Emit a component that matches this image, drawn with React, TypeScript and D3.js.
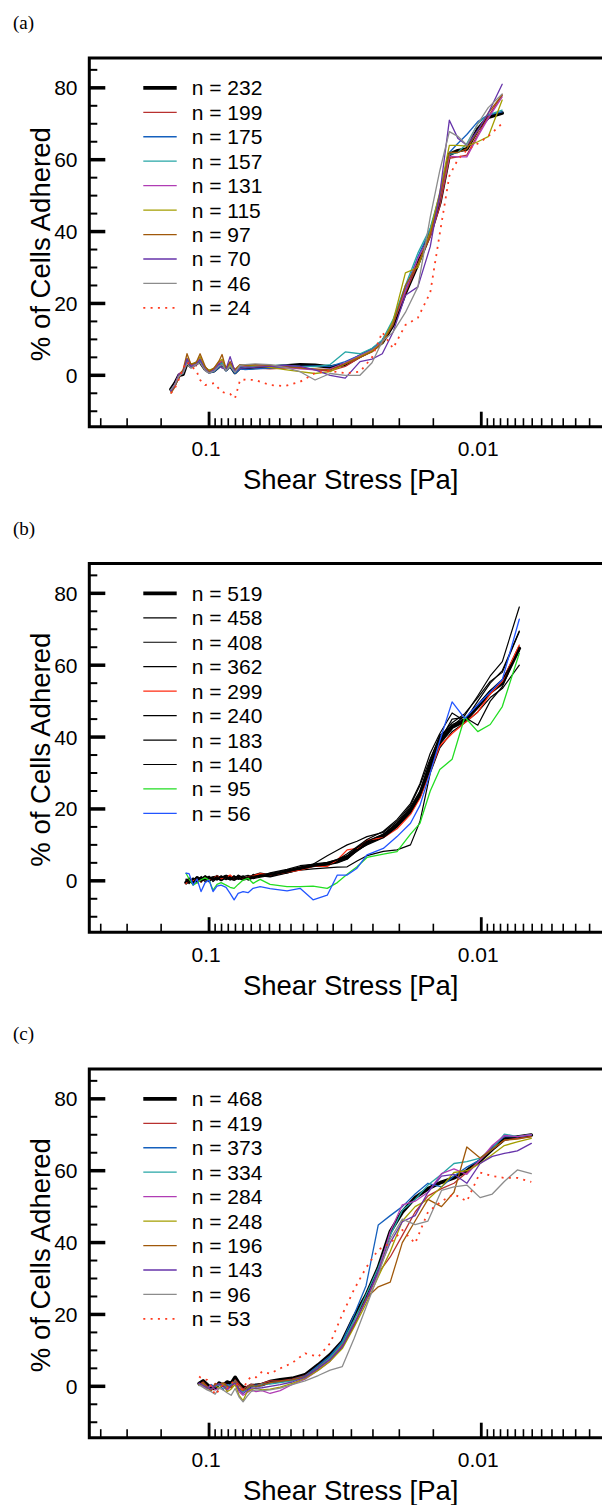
import React from "react";
import * as d3 from "d3";

// ---------- Panel (a) data : shear stress [Pa] and % of cells adhered ----------
const tauA = [0.138, 0.1334, 0.1289, 0.1246, 0.1205, 0.1165, 0.1116, 0.1079, 0.1034, 0.1, 0.0959, 0.0919, 0.0896, 0.0866, 0.0837, 0.0803, 0.0769, 0.0737, 0.0677, 0.0597, 0.0526, 0.0463, 0.0408, 0.0359, 0.0316, 0.0279, 0.0252, 0.0231, 0.0211, 0.019, 0.0171, 0.0154, 0.0142, 0.0131, 0.0122, 0.0113, 0.0103, 0.00943, 0.00838];
const labelsA = ["n = 232", "n = 199", "n = 175", "n = 157", "n = 131", "n = 115", "n = 97", "n = 70", "n = 46", "n = 24"];
const a232 = [-3.9, -2.2, 0.0, 0.3, 3.5, 2.5, 3.3, 3.8, 1.8, 1.0, 1.3, 2.5, 3.2, 1.6, 2.8, 0.8, 2.2, 2.0, 2.2, 2.3, 2.6, 2.9, 2.8, 2.3, 3.0, 5.3, 7.0, 9.2, 14.0, 23.0, 31.0, 39.5, 48.0, 61.5, 62.5, 63.0, 68.5, 71.8, 73.0];
const a199 = [-4.5, -2.8, -0.5, 1.0, 4.2, 3.0, 2.6, 4.5, 2.0, 0.8, 1.8, 3.0, 4.0, 1.5, 3.2, 1.2, 2.5, 2.4, 2.0, 1.8, 2.0, 2.2, 1.5, 1.2, 2.5, 5.0, 6.8, 9.0, 14.5, 23.0, 31.0, 38.5, 47.0, 60.4, 60.8, 61.3, 67.0, 72.0, 78.0];
const a175 = [-4.0, -2.5, 0.2, 0.5, 3.8, 2.8, 3.0, 4.2, 1.4, 0.6, 1.0, 2.2, 3.0, 1.2, 2.5, 0.5, 1.8, 1.6, 1.8, 2.0, 2.2, 2.5, 2.6, 2.5, 3.8, 5.6, 7.2, 9.5, 15.0, 24.0, 33.0, 40.5, 50.0, 62.0, 64.5, 67.0, 70.6, 72.5, 73.3];
const a157 = [-4.2, -2.6, 0.0, 0.8, 4.0, 2.6, 3.2, 4.0, 1.6, 0.9, 1.5, 2.8, 3.5, 1.8, 3.0, 1.0, 2.4, 2.2, 2.5, 2.7, 2.8, 2.5, 2.4, 3.0, 6.5, 6.0, 7.5, 9.8, 15.5, 25.0, 34.0, 41.0, 50.5, 61.5, 62.0, 64.5, 70.0, 72.5, 73.8];
const a131 = [-4.3, -2.4, 0.5, 1.0, 4.5, 2.8, 3.0, 4.8, 2.0, 1.2, 1.6, 3.5, 4.2, 2.0, 3.5, 1.3, 2.7, 2.6, 2.8, 2.5, 2.2, 1.8, 1.5, 1.8, 3.5, 5.5, 7.0, 9.3, 14.5, 23.5, 32.5, 39.0, 49.0, 61.0, 60.8, 60.8, 66.5, 71.5, 77.5];
const a115 = [-4.6, -3.0, -0.2, 1.2, 4.8, 3.2, 3.5, 5.2, 2.2, 1.4, 2.0, 3.8, 4.5, 1.9, 3.0, 1.5, 2.9, 2.8, 2.6, 2.2, 1.6, 1.0, 0.5, 1.0, 3.2, 5.2, 6.8, 9.0, 15.0, 28.5, 30.0, 40.0, 51.0, 64.0, 64.0, 63.8, 65.0, 66.4, 76.6];
const a97 = [-5.0, -3.2, 0.2, 1.5, 6.0, 3.0, 3.5, 6.0, 2.5, 1.0, 2.0, 4.0, 5.8, 1.8, 3.8, 1.6, 3.0, 2.8, 3.0, 2.8, 2.5, 2.0, 1.8, 1.5, 3.2, 5.0, 6.5, 9.0, 14.0, 25.0, 31.0, 39.0, 49.5, 62.0, 62.0, 63.0, 68.0, 73.0, 78.0];
const a70 = [-4.4, -2.7, 0.3, 0.8, 4.6, 2.4, 3.0, 4.4, 1.5, 0.7, 1.4, 3.2, 2.0, 1.8, 5.2, 1.0, 2.0, 2.0, 2.3, 2.5, 2.8, 2.5, 1.5, 0.0, -0.8, 3.8, 4.5, 6.0, 12.0, 22.3, 24.6, 35.8, 50.6, 71.0, 66.0, 64.0, 68.2, 72.9, 81.0];
const a46 = [-4.0, -2.5, -0.2, 0.6, 3.2, 2.0, 3.0, 3.5, 1.3, 0.6, 1.2, 2.6, 3.0, 1.3, 2.6, 0.8, 2.8, 3.0, 3.2, 3.0, 2.2, 1.0, -1.3, 0.5, 0.0, 0.0, 3.5, 9.5, 12.0, 17.5, 24.6, 44.0, 57.0, 67.8, 66.5, 64.1, 70.0, 74.5, 78.3];
const a24 = [-5.0, -3.5, -1.0, 1.9, 3.8, 2.5, 1.5, -1.3, -2.7, -2.5, -2.2, -3.8, -4.6, -5.0, -5.2, -6.4, -1.3, -1.2, -1.3, -2.7, -3.0, -1.8, 0.6, 1.2, 0.6, 1.0, 5.0, 12.0, 7.5, 14.0, 16.0, 23.0, 39.5, 55.5, 60.0, 62.7, 64.5, 66.5, 70.1];

// ---------- Panel (b) data ----------
const tauB = [0.1215, 0.1184, 0.1145, 0.1107, 0.107, 0.1034, 0.1, 0.0967, 0.0935, 0.0903, 0.0866, 0.0837, 0.0809, 0.0782, 0.075, 0.0719, 0.0689, 0.0649, 0.0597, 0.0517, 0.0463, 0.0415, 0.0368, 0.0338, 0.0311, 0.0286, 0.0263, 0.0229, 0.0204, 0.0182, 0.0168, 0.0154, 0.0142, 0.0128, 0.0115, 0.0103, 0.00927, 0.00837, 0.00725];
const labelsB = ["n = 519", "n = 458", "n = 408", "n = 362", "n = 299", "n = 240", "n = 183", "n = 140", "n = 95", "n = 56"];
const b519 = [-0.5, 0.3, -0.5, 0.8, 0.2, 1.0, 0.5, 0.8, 1.0, 0.4, 1.2, 0.8, 0.5, 1.0, 0.6, 0.8, 1.2, 1.8, 1.4, 2.5, 3.5, 4.3, 4.8, 5.5, 6.5, 8.8, 10.6, 12.5, 15.5, 19.5, 24.0, 32.0, 38.5, 42.8, 44.5, 48.5, 52.5, 55.0, 64.7];
const b458 = [0.2, -0.8, 0.5, -0.3, 1.2, 0.3, 1.3, 0.2, 1.5, 0.8, 0.5, 1.5, 0.2, 1.6, 0.9, 0.5, 1.8, 1.2, 2.2, 3.2, 4.2, 4.6, 7.0, 8.5, 10.0, 11.0, 12.3, 13.5, 16.5, 21.0, 26.5, 34.0, 40.0, 44.0, 46.5, 51.0, 55.5, 58.0, 69.3];
const b408 = [-0.8, 0.5, -0.2, 1.0, -0.4, 1.4, 0.1, 1.1, 0.6, 1.3, 0.3, 1.0, 1.3, 0.4, 1.2, 1.5, 0.9, 1.5, 2.0, 3.0, 3.8, 4.0, 4.5, 5.2, 6.3, 8.2, 10.2, 12.8, 16.0, 20.5, 25.0, 33.5, 40.5, 43.0, 46.0, 51.5, 57.0, 61.0, 76.2];
const b362 = [0.3, -0.2, 0.8, -0.6, 0.9, 0.6, 1.2, -0.2, 0.8, 1.1, 0.8, 0.2, 0.9, 1.2, 0.3, 1.1, 0.6, 1.0, 1.5, 2.2, 3.0, 3.3, 3.6, 3.8, 3.9, 5.5, 7.0, 8.2, 8.6, 10.0, 16.5, 30.0, 37.0, 41.5, 44.0, 47.0, 51.0, 53.5, 60.0];
const b299 = [-0.8, 0.4, 0.0, 0.6, -0.3, 1.1, 0.3, 0.7, 1.3, 0.5, 0.9, 1.6, 0.6, 1.2, 0.7, 1.0, 1.4, 2.0, 1.5, 2.4, 3.0, 4.0, 4.0, 5.8, 8.6, 9.0, 11.3, 12.0, 14.5, 18.5, 23.0, 30.5, 37.5, 41.0, 44.0, 47.0, 52.0, 55.5, 65.6];
const b240 = [-0.3, 0.8, -0.7, 0.5, 0.4, 1.3, -0.3, 0.9, 0.2, 1.4, 0.7, 0.3, 1.4, 0.6, 0.5, 1.0, 1.3, 1.4, 1.2, 2.8, 3.2, 4.0, 4.4, 5.0, 6.0, 8.5, 10.0, 12.0, 15.0, 19.0, 23.5, 31.0, 39.0, 45.0, 45.5, 43.3, 50.0, 54.0, 65.0];
const b183 = [0.0, -0.5, 0.4, 0.9, -0.2, 0.8, 0.7, 0.5, 1.2, 0.1, 1.0, 0.6, 0.8, 1.3, 0.8, 0.6, 1.0, 1.6, 1.8, 2.6, 3.6, 4.4, 5.0, 6.0, 7.0, 9.2, 11.0, 13.0, 16.0, 20.0, 24.5, 32.5, 39.5, 43.5, 45.0, 49.0, 53.0, 56.0, 64.0];
const b140 = [0.5, 0.0, -0.4, 0.6, 0.8, -0.2, 1.0, 0.4, 0.3, 1.0, 1.5, 0.4, 0.6, 0.9, 1.4, 0.2, 0.8, 1.2, 1.6, 2.4, 3.4, 4.2, 4.8, 5.8, 7.5, 9.5, 11.5, 13.8, 17.0, 21.5, 27.0, 35.5, 41.0, 46.7, 44.5, 50.0, 55.0, 58.5, 69.5];
const b95 = [2.1, 0.5, -1.2, -0.5, 0.3, 0.8, 0.2, -2.6, -1.0, -0.5, -1.2, -1.8, -2.1, -1.0, 0.2, 0.7, -0.7, 0.4, -1.0, -1.6, -1.6, -1.5, -2.1, -0.5, 1.8, 3.9, 6.5, 7.4, 8.1, 13.0, 16.0, 25.0, 31.0, 33.8, 45.6, 41.5, 43.5, 48.5, 63.3];
const b56 = [2.1, 2.0, -1.2, 0.5, -3.0, -0.5, 0.2, -3.0, -1.5, -1.2, -1.8, -3.5, -5.3, -3.5, -3.0, -3.3, -2.1, -1.6, -2.2, -2.8, -2.1, -5.3, -4.0, 1.6, 1.6, 3.5, 7.2, 9.0, 12.3, 16.0, 21.0, 30.0, 39.0, 49.8, 45.2, 49.0, 52.5, 56.0, 72.8];

// ---------- Panel (c) data ----------
const tauC = [0.1088, 0.1052, 0.1017, 0.0983, 0.095, 0.0919, 0.0888, 0.0859, 0.083, 0.0802, 0.0776, 0.075, 0.0725, 0.0701, 0.0672, 0.0639, 0.0597, 0.0548, 0.0495, 0.0444, 0.0397, 0.0359, 0.0324, 0.0293, 0.0265, 0.0239, 0.0216, 0.0195, 0.0175, 0.0157, 0.014, 0.0126, 0.0113, 0.0101, 0.00911, 0.00823, 0.00737, 0.00655];
const labelsC = ["n = 468", "n = 419", "n = 373", "n = 334", "n = 284", "n = 248", "n = 196", "n = 143", "n = 96", "n = 53"];
const c468 = [0.8, 1.5, 0.5, -0.5, -0.6, 0.9, 0.2, 1.2, 0.8, 2.5, 0.8, -0.3, -0.5, 0.2, 0.3, 0.5, 1.3, 1.8, 2.2, 3.2, 6.0, 8.8, 12.5, 19.4, 25.3, 33.0, 43.0, 48.5, 52.5, 55.0, 56.8, 58.0, 60.0, 62.8, 66.0, 68.8, 69.4, 69.9];
const c419 = [0.5, 1.2, 0.0, -1.2, 0.8, 0.3, 1.0, 0.4, -0.5, 1.8, 0.5, -0.8, 0.0, 0.6, 0.2, 0.8, 1.5, 1.5, 2.0, 3.0, 5.5, 8.0, 11.5, 17.5, 24.0, 31.5, 36.0, 42.0, 48.5, 53.0, 55.0, 56.5, 59.5, 63.0, 66.0, 68.5, 69.0, 69.5];
const c373 = [0.2, 0.6, -0.8, 0.5, -0.2, 0.8, -1.0, 0.5, 0.2, 1.2, -0.6, -1.5, -0.8, 0.0, 0.3, 0.2, 1.0, 1.2, 1.8, 2.8, 5.8, 8.5, 12.5, 20.0, 28.0, 44.9, 47.5, 50.0, 53.5, 56.5, 55.5, 58.5, 61.0, 63.0, 66.5, 69.5, 69.5, 70.0];
const c334 = [0.6, 0.2, -0.3, -1.0, 0.4, 0.2, 0.9, -0.4, 0.6, 1.5, -0.8, -1.5, -0.5, 0.3, -0.2, 0.6, 0.6, 1.0, 1.5, 2.5, 5.2, 8.0, 12.0, 18.5, 25.5, 33.0, 42.0, 49.0, 52.0, 56.0, 59.0, 62.0, 62.5, 63.5, 66.0, 70.2, 69.5, 70.0];
const c284 = [0.8, 0.0, -0.6, 0.2, -1.0, -0.5, 0.5, -1.2, 0.0, 1.0, -1.5, -2.5, -1.8, -1.0, -1.5, -1.2, -2.0, -1.2, 0.5, 2.0, 4.5, 7.0, 11.0, 17.0, 24.0, 32.0, 43.0, 50.5, 51.5, 54.0, 59.2, 60.5, 59.0, 63.0, 67.0, 69.8, 69.5, 70.0];
const c248 = [0.3, 0.5, -0.5, -1.0, 0.2, -0.6, 0.8, -1.5, -0.8, 0.5, -2.5, -4.0, -1.5, -1.0, -0.5, -1.0, -0.8, -0.2, 0.8, 2.2, 4.5, 7.0, 10.5, 16.5, 23.0, 30.5, 37.5, 46.0, 50.0, 52.0, 55.5, 59.5, 60.0, 62.0, 64.5, 67.0, 68.0, 69.0];
const c196 = [0.4, 1.0, -0.2, -1.3, 0.6, 0.5, 0.9, 0.0, -0.3, 1.3, -0.5, -1.2, -0.6, 0.2, 0.0, 0.3, 1.0, 1.4, 1.8, 2.6, 5.0, 7.5, 11.0, 17.0, 24.5, 27.7, 29.0, 40.0, 46.0, 52.0, 50.0, 54.0, 66.6, 63.5, 66.0, 68.5, 68.8, 69.5];
const c143 = [0.9, 0.3, -0.4, -0.8, 0.1, 0.7, 0.2, -0.8, 0.3, 0.9, -1.0, -2.0, -1.2, -0.5, -0.5, -0.4, 0.0, 0.5, 1.2, 2.5, 5.0, 7.5, 11.0, 17.5, 24.0, 32.0, 40.0, 45.8, 47.5, 54.0, 58.5, 59.0, 56.5, 62.0, 64.0, 64.8, 65.5, 67.6];
const c96 = [0.4, -0.3, -1.0, -1.5, -2.2, -0.5, -1.0, -1.8, -2.5, -0.6, -3.0, -4.3, -2.8, -1.5, -1.0, -1.2, -1.0, -0.5, 0.5, 1.5, 3.0, 4.5, 5.5, 13.4, 22.0, 31.0, 41.0, 46.5, 45.0, 46.0, 54.5, 55.5, 56.0, 52.5, 53.5, 57.0, 60.2, 59.2];
const c53 = [2.7, 2.0, 1.8, 0.0, -2.4, -1.0, 0.5, -0.5, 0.8, 1.5, -0.5, -1.0, 1.5, 2.7, 2.5, 4.1, 3.5, 5.0, 6.5, 9.2, 8.2, 12.0, 20.0, 27.0, 33.0, 38.0, 39.8, 43.5, 39.8, 48.5, 51.5, 53.5, 51.5, 59.5, 58.5, 58.0, 58.0, 56.9];

// ---------- axis ticks ----------
const yMajorTicks = [0, 20, 40, 60, 80];
const xMajorTicks = [0.1, 0.01];
const xMajorLabels = ["0.1", "0.01"];
const xTickDecades = [0.001, 0.01, 0.1];
const xTickMultiples = [1.5, 2, 2.5, 3, 3.5, 4, 4.5, 5, 5.5, 6, 6.5, 7, 7.5, 8, 8.5, 9, 9.5];

// ---------- styles ----------
type Style = { color: string; width: number; dash?: string };
const paletteAC: Style[] = [
  { color: "#000000", width: 3.6 },
  { color: "#B8312F", width: 1.3 },
  { color: "#1560BD", width: 1.3 },
  { color: "#26A6A6", width: 1.3 },
  { color: "#B03CB4", width: 1.3 },
  { color: "#A39E00", width: 1.3 },
  { color: "#A0580A", width: 1.3 },
  { color: "#6633AA", width: 1.3 },
  { color: "#8C8C8C", width: 1.3 },
  { color: "#FF3B1F", width: 1.8, dash: "2,5.3" },
];
const paletteB: Style[] = [
  { color: "#000000", width: 3.6 },
  { color: "#000000", width: 1.2 },
  { color: "#000000", width: 1.2 },
  { color: "#000000", width: 1.2 },
  { color: "#FF2A10", width: 1.3 },
  { color: "#000000", width: 1.2 },
  { color: "#000000", width: 1.2 },
  { color: "#000000", width: 1.2 },
  { color: "#22DD22", width: 1.3 },
  { color: "#2255FF", width: 1.3 },
];

const FONT = "'Liberation Sans', Arial, Helvetica, sans-serif";
const W = 602;
const H = 1505;
const LEFT = 89.3;
const RIGHT = 650;
const TOP = 58;
const BOTTOM = 426.7;
const X_DOMAIN = [0.2754, 0.0024];
const Y_DOMAIN = [-14.3, 88.3];

type PanelProps = {
  offset: number;
  tag: string;
  tau: number[];
  series: number[][];
  labels: string[];
  styles: Style[];
};

function Panel({ offset, tag, tau, series, labels, styles }: PanelProps) {
  const xs = d3.scaleLog().domain(X_DOMAIN).range([LEFT, RIGHT]);
  const ys = d3.scaleLinear().domain(Y_DOMAIN).range([BOTTOM, TOP]);
  const line = d3
    .line<[number, number]>()
    .x((d) => xs(d[0]))
    .y((d) => ys(d[1]));

  const xMinor: number[] = [];
  xTickDecades.forEach((dec) =>
    xTickMultiples.forEach((m) => {
      const v = m * dec;
      if (v < X_DOMAIN[0] && v > X_DOMAIN[1]) xMinor.push(v);
    })
  );
  const yMinor = d3.range(-10, 90, 5).filter((v) => v % 20 !== 0 && v > Y_DOMAIN[0] && v < Y_DOMAIN[1]);

  const legendTop = ys(80);
  const rowH = 24.45;

  return (
    <g transform={`translate(0,${offset})`}>
      <text x={13} y={29} fontFamily="'Liberation Serif', 'Times New Roman', serif" fontSize={19} fill="#000">
        {tag}
      </text>

      {/* data */}
      {series.map((vals, i) => {
        const pts = tau.map((t, k) => [t, vals[k]] as [number, number]);
        const st = styles[i];
        return (
          <path
            key={i}
            d={line(pts) || ""}
            fill="none"
            stroke={st.color}
            strokeWidth={st.width}
            strokeDasharray={st.dash}
            strokeLinejoin="round"
            strokeLinecap={st.dash ? "butt" : "round"}
          />
        );
      })}

      {/* frame */}
      <path
        d={`M${RIGHT},${TOP}H${LEFT}V${BOTTOM}H${RIGHT}`}
        fill="none"
        stroke="#000"
        strokeWidth={3}
      />

      {/* x ticks */}
      {xMinor.map((v, i) => (
        <line key={"xm" + i} x1={xs(v)} x2={xs(v)} y1={BOTTOM} y2={BOTTOM - 8.5} stroke="#000" strokeWidth={1.6} />
      ))}
      {xMajorTicks.map((v, i) => (
        <g key={"xM" + i}>
          <line x1={xs(v)} x2={xs(v)} y1={BOTTOM} y2={BOTTOM - 15} stroke="#000" strokeWidth={2.8} />
          <text x={xs(v) - 3} y={456} textAnchor="middle" fontFamily={FONT} fontSize={21} fill="#000">
            {xMajorLabels[i]}
          </text>
        </g>
      ))}

      {/* y ticks */}
      {yMinor.map((v, i) => (
        <line key={"ym" + i} x1={LEFT} x2={LEFT + 8} y1={ys(v)} y2={ys(v)} stroke="#000" strokeWidth={2} />
      ))}
      {yMajorTicks.map((v, i) => (
        <g key={"yM" + i}>
          <line x1={LEFT} x2={LEFT + 16} y1={ys(v)} y2={ys(v)} stroke="#000" strokeWidth={3.5} />
          <text x={77.5} y={ys(v) + 7.5} textAnchor="end" fontFamily={FONT} fontSize={21} fill="#000">
            {v}
          </text>
        </g>
      ))}

      {/* axis titles */}
      <text x={350.7} y={489} textAnchor="middle" fontFamily={FONT} fontSize={27.5} fill="#000">
        Shear Stress [Pa]
      </text>
      <text
        transform={`translate(49.5,244.2) rotate(-90)`}
        textAnchor="middle"
        fontFamily={FONT}
        fontSize={27.5}
        fill="#000"
      >
        % of Cells Adhered
      </text>

      {/* legend */}
      {labels.map((lab, i) => {
        const st = styles[i];
        const y = legendTop + i * rowH;
        return (
          <g key={"lg" + i}>
            <line
              x1={143.3}
              x2={176.7}
              y1={y}
              y2={y}
              stroke={st.color}
              strokeWidth={st.width}
              strokeDasharray={st.dash}
            />
            <text x={191.7} y={y + 7.5} fontFamily={FONT} fontSize={21} fill="#000">
              {lab}
            </text>
          </g>
        );
      })}
    </g>
  );
}

export default function App() {
  return (
    <svg
      width={W}
      height={H}
      viewBox={`0 0 ${W} ${H}`}
      style={{ position: "absolute", left: 0, top: 0, display: "block", background: "#fff" }}
    >
      <rect x={0} y={0} width={W} height={H} fill="#fff" />
      <Panel
        offset={0}
        tag="(a)"
        tau={tauA}
        series={[a232, a199, a175, a157, a131, a115, a97, a70, a46, a24]}
        labels={labelsA}
        styles={paletteAC}
      />
      <Panel
        offset={505.5}
        tag="(b)"
        tau={tauB}
        series={[b519, b458, b408, b362, b299, b240, b183, b140, b95, b56]}
        labels={labelsB}
        styles={paletteB}
      />
      <Panel
        offset={1011}
        tag="(c)"
        tau={tauC}
        series={[c468, c419, c373, c334, c284, c248, c196, c143, c96, c53]}
        labels={labelsC}
        styles={paletteAC}
      />
    </svg>
  );
}
